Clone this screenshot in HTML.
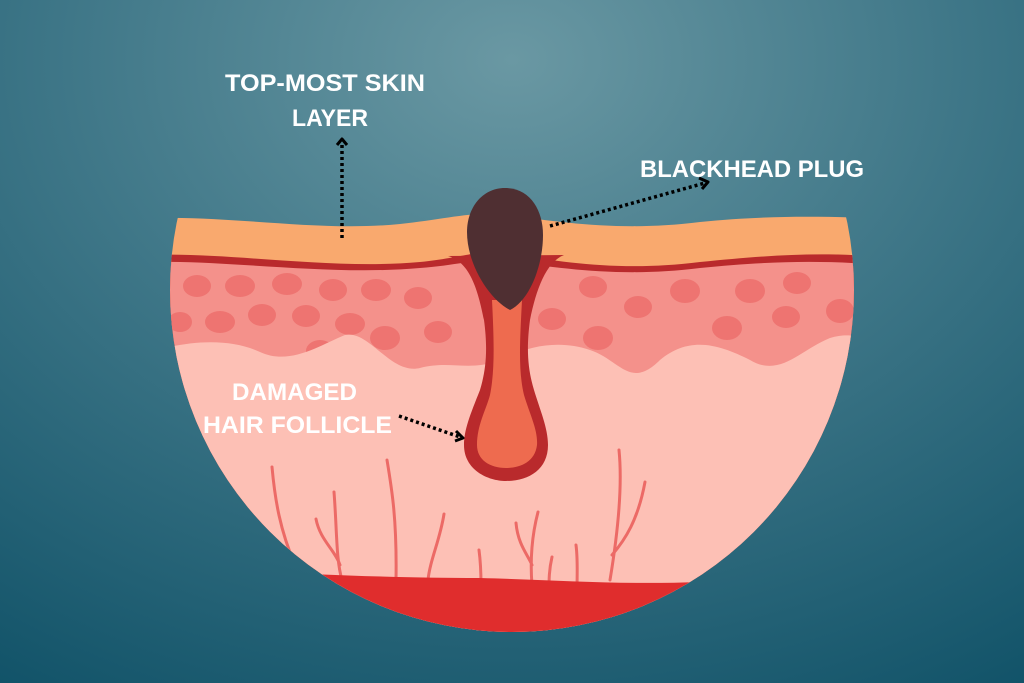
<!DOCTYPE html>
<html><head><meta charset="utf-8"><style>
html,body{margin:0;padding:0;width:1024px;height:683px;overflow:hidden}
svg{display:block}
text{font-family:"Liberation Sans Narrow","Liberation Sans",sans-serif;font-weight:bold;fill:#fff}
</style></head><body>
<svg width="1024" height="683" viewBox="0 0 1024 683">
<defs>
<radialGradient id="bg" cx="512" cy="60" r="760" gradientTransform="translate(512 60) scale(1.3 1) translate(-512 -60)" gradientUnits="userSpaceOnUse">
<stop offset="0" stop-color="#6a98a3"/><stop offset="0.45" stop-color="#3f7788"/><stop offset="1" stop-color="#0f5167"/>
</radialGradient>
<clipPath id="c"><circle cx="512" cy="290" r="342"/></clipPath>
</defs>
<rect width="1024" height="683" fill="url(#bg)"/>
<g clip-path="url(#c)">
<path d="M150 218 C240 216 320 232 400 224 C440 220 470 212 500 214 C560 222 620 232 700 222 C760 216 810 216 870 218 L870 700 L150 700Z" fill="#f9a96e"/>
<path d="M150 255 C230 252 330 270 420 262 C460 258 480 250 500 252 C560 262 620 272 700 262 C760 256 810 252 870 256 L870 700 L150 700Z" fill="#b92a2c"/>
<path d="M150 262 C230 260 330 276 420 268 C460 265 480 258 500 260 C560 268 620 278 700 268 C760 262 810 260 870 264 L870 700 L150 700Z" fill="#f4918b"/>
<g fill="#ee7471">
<ellipse cx="197" cy="286" rx="14" ry="11"/><ellipse cx="240" cy="286" rx="15" ry="11"/><ellipse cx="287" cy="284" rx="15" ry="11"/><ellipse cx="333" cy="290" rx="14" ry="11"/><ellipse cx="376" cy="290" rx="15" ry="11"/>
<ellipse cx="180" cy="322" rx="12" ry="10"/><ellipse cx="220" cy="322" rx="15" ry="11"/><ellipse cx="262" cy="315" rx="14" ry="11"/><ellipse cx="306" cy="316" rx="14" ry="11"/><ellipse cx="350" cy="324" rx="15" ry="11"/><ellipse cx="385" cy="338" rx="15" ry="12"/><ellipse cx="320" cy="351" rx="14" ry="11"/>
<ellipse cx="418" cy="298" rx="14" ry="11"/><ellipse cx="438" cy="332" rx="14" ry="11"/>
<ellipse cx="593" cy="287" rx="14" ry="11"/><ellipse cx="638" cy="307" rx="14" ry="11"/><ellipse cx="552" cy="319" rx="14" ry="11"/><ellipse cx="598" cy="338" rx="15" ry="12"/><ellipse cx="685" cy="291" rx="15" ry="12"/><ellipse cx="750" cy="291" rx="15" ry="12"/><ellipse cx="797" cy="283" rx="14" ry="11"/><ellipse cx="727" cy="328" rx="15" ry="12"/><ellipse cx="786" cy="317" rx="14" ry="11"/><ellipse cx="840" cy="311" rx="14" ry="12"/>
</g>
<path d="M150 352 C190 340 230 338 260 352 C290 366 320 345 345 335 C370 330 390 375 420 368 C450 360 470 372 500 360 C530 345 560 340 590 350 C620 360 630 390 660 360 C690 335 720 345 750 360 C780 378 800 350 830 338 C850 332 860 338 870 340 L870 700 L150 700Z" fill="#fdc0b5"/>
<g stroke="#ec6a66" stroke-width="3" fill="none" stroke-linecap="round">
<path d="M272 467 C275 500 280 530 295 565"/>
<path d="M334 492 C337 530 336 560 342 580 M316 519 C320 540 335 550 340 565"/>
<path d="M387 460 C392 490 397 520 396 580"/>
<path d="M444 514 C440 540 430 560 428 580"/>
<path d="M479 550 C481 565 481 575 481 585"/>
<path d="M538 512 C532 535 530 560 532 585 M516 523 C518 545 528 555 532 565"/>
<path d="M552 557 C549 570 549 580 549 590"/>
<path d="M576 545 C578 560 577 575 577 590"/>
<path d="M619 450 C622 480 620 520 610 580 M645 482 C638 520 625 540 612 555"/>
</g>
<path d="M150 567 C250 570 350 578 480 578 C560 580 620 585 700 582 L870 580 L870 700 L150 700Z" fill="#e02d2d"/>
</g>
<path d="M448 256 C470 262 478 290 484 320 C488 350 486 370 480 390 C470 415 464 430 464 445 C464 470 488 481 506 481 C528 481 548 470 548 445 C548 428 540 410 534 390 C528 370 526 350 530 320 C536 290 546 262 564 255 Z" fill="#b92a2c"/>
<path d="M492 300 L522 300 C520 340 518 370 524 395 C530 415 538 430 537 445 C535 462 520 468 506 468 C490 468 477 460 477 445 C477 425 486 410 490 395 C495 370 494 340 492 300Z" fill="#ee6b4f"/>
<path d="M505 188 C530 188 543 210 543 235 C543 265 530 300 510 310 C490 300 467 265 467 232 C467 208 482 188 505 188Z" fill="#4f2f32"/>
<g stroke="#000" stroke-width="3.5" fill="none" stroke-dasharray="3 3">
<path d="M342 238 L342 145"/>
<path d="M550 226 L705 183"/>
<path d="M399 416 L460 437"/>
</g>
<g stroke="#000" stroke-width="3" fill="none" stroke-linejoin="round">
<path d="M337 145 L342 139 L347 145"/>
<path d="M699 178 L708 182 L702 189"/>
<path d="M456 431 L463 438 L455 441"/>
</g>
<text x="225" y="91" font-size="24" textLength="200" lengthAdjust="spacingAndGlyphs">TOP-MOST SKIN</text>
<text x="292" y="126" font-size="24" textLength="76" lengthAdjust="spacingAndGlyphs">LAYER</text>
<text x="640" y="177" font-size="24" textLength="224" lengthAdjust="spacingAndGlyphs">BLACKHEAD PLUG</text>
<text x="232" y="400" font-size="24" textLength="125" lengthAdjust="spacingAndGlyphs">DAMAGED</text>
<text x="203" y="433" font-size="24" textLength="189" lengthAdjust="spacingAndGlyphs">HAIR FOLLICLE</text>
</svg>
</body></html>
